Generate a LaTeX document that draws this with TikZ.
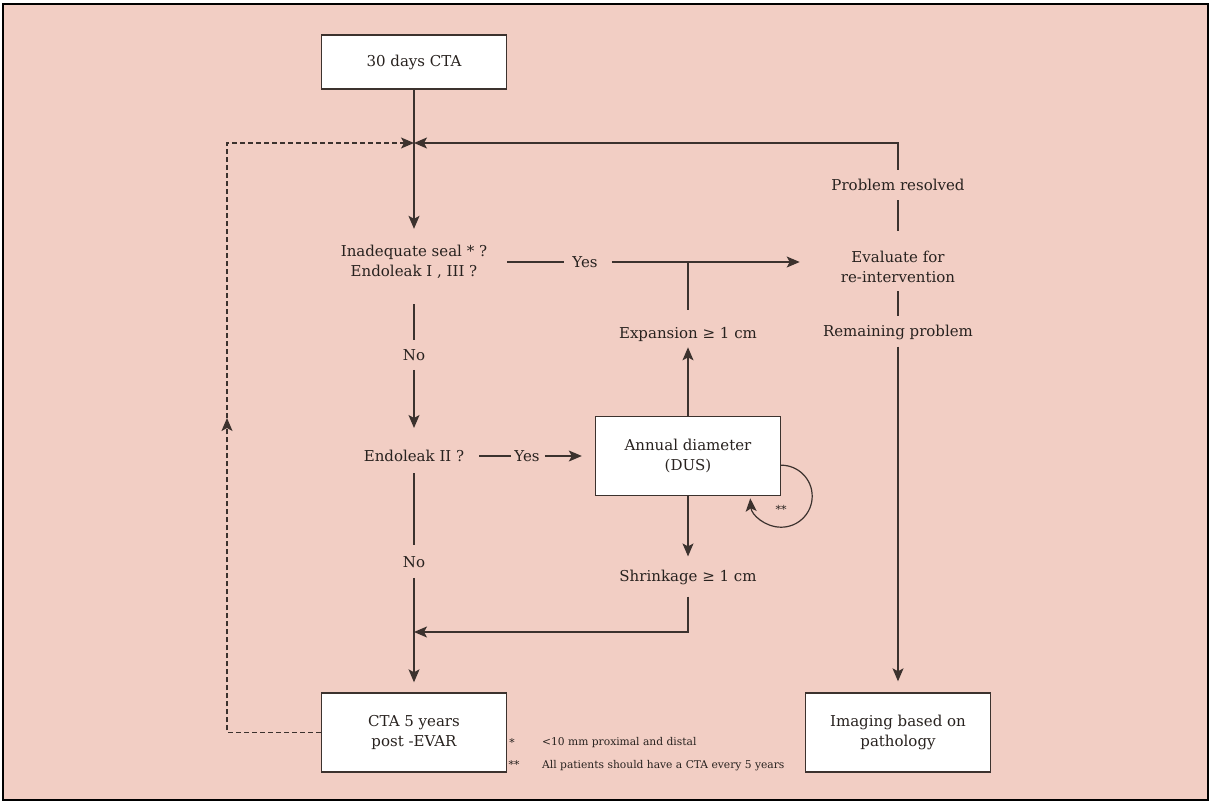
\documentclass[tikz,border=0pt]{standalone}
\usepackage{fontspec}
\setmainfont{DejaVu Serif}
\usetikzlibrary{arrows.meta,calc}
\definecolor{bgpink}{RGB}{242,206,196}
\definecolor{ink}{RGB}{60,50,46}
\definecolor{txtink}{RGB}{40,34,31}
\tikzset{
	box/.style={draw=ink, line width=1.4pt, fill=white, minimum width=185pt, minimum height=79pt, align=center, text=txtink, font=\fontsize{15}{20.5}\selectfont},
	txt/.style={inner sep=0pt, align=center, text=txtink, font=\fontsize{15}{20.5}\selectfont},
	note/.style={inner sep=0pt, text=txtink, font=\fontsize{10.7}{13}\selectfont},
	link/.style={draw=ink, line width=1.2pt},
	arr/.style={link, -{Stealth[length=13pt,width=11pt,inset=3pt]}},
	backarr/.style={arr, dashed, dash pattern=on 5pt off 3pt}
}

\begin{document}
\begin{tikzpicture}[x=1pt, y=-1pt]
		%%%%% START %%%%%
		\useasboundingbox (0, 0) rectangle (1211, 803);
		\draw[fill=bgpink, line width=1.6pt] (3, 4) rectangle (1208, 800);
		
		\node[box, minimum height=54pt] (cta30) at (414, 62) {30 days CTA};
		\coordinate (jn) at (414, 143);
		\node[txt] (seal) at (414, 262) {Inadequate seal * ?\\Endoleak I , III ?};
		\node[txt] (yes1) at (585, 262) {Yes};
		\node[txt] (resolved) at (898, 185) {Problem resolved};
		\node[txt] (eval) at (898, 267) {Evaluate for\\re-intervention};
		\node[txt] (remain) at (898, 332) {Remaining problem};
		\node[txt] (expa) at (688, 334) {Expansion ≥ 1 cm};
		\node[txt] (no1) at (414, 355) {No};
		
		\node[txt] (leak2) at (414, 456) {Endoleak II ?};
		\node[txt] (yes2) at (527, 456) {Yes};
		\node[box] (annual) at (688, 456) {Annual diameter\\(DUS)};
		\node[txt, font=\fontsize{11}{13}\selectfont] (twostar) at (781, 509) {**};
		\node[txt] (shrink) at (688, 577) {Shrinkage ≥ 1 cm};
		\node[txt] (no2) at (414, 562) {No};
		\coordinate (merge) at (414, 632);
		
		\node[box] (cta5) at (414, 732.5) {CTA 5 years\\post -EVAR};
		\node[box] (img) at (898, 732.5) {Imaging based on\\pathology};
		\coordinate (dmid) at (227, 418);
		
		\node[note] (fnmark1) at (512, 743) {*};
		\node[note, anchor=west] (fntext1) at (542, 743) {<10 mm proximal and distal};
		\node[note] (fnmark2) at (514, 765) {**};
		\node[note, anchor=west] (fntext2) at (542, 766) {All patients should have a CTA every 5 years};
		
		\draw[link] (cta30) -- (jn);
		\draw[arr, shorten >=16pt] (jn) -- (seal);
		\draw[arr, shorten <=9pt] (resolved) |- (jn);
		\draw[backarr] (cta5) -| (dmid);
		\draw[backarr] (dmid) |- (jn);
		
		\draw[link, shorten <=20pt, shorten >=8pt] (seal) -- (yes1);
		\draw[arr, shorten <=14pt, shorten >=41pt] (yes1) -- (yes1 -| eval.west);
		\draw[link, shorten <=17pt] (expa) -- (expa |- yes1);
		\draw[link, shorten <=9pt, shorten >=20pt] (resolved) -- (eval);
		\draw[link, shorten <=8pt, shorten >=8pt] (eval) -- (remain);
		\draw[arr, shorten <=7pt, shorten >=11pt] (remain) -- (img);
		
		\draw[link, shorten <=25pt, shorten >=9pt] (seal) -- (no1);
		\draw[arr, shorten <=9pt, shorten >=22pt] (no1) -- (leak2);
		\draw[link, shorten <=15pt, shorten >=3pt] (leak2) -- (yes2);
		\draw[arr, shorten <=5pt, shorten >=13pt] (yes2) -- (annual);
		\draw[arr, shorten >=6pt] (annual) -- (expa);
		\draw[arr, shorten >=13pt] (annual) -- (shrink);
		\draw[arr] ([yshift=31pt]annual.south east) arc[start angle=-90, end angle=176, radius=31];
		\draw[arr, shorten <=12pt] (shrink) |- (merge);
		
		\draw[link, shorten <=11pt, shorten >=11pt] (leak2) -- (no2);
		\draw[arr, shorten <=10pt, shorten >=10pt] (no2) -- (cta5);
		%%%%% END %%%%%
	\end{tikzpicture}
\end{document}
